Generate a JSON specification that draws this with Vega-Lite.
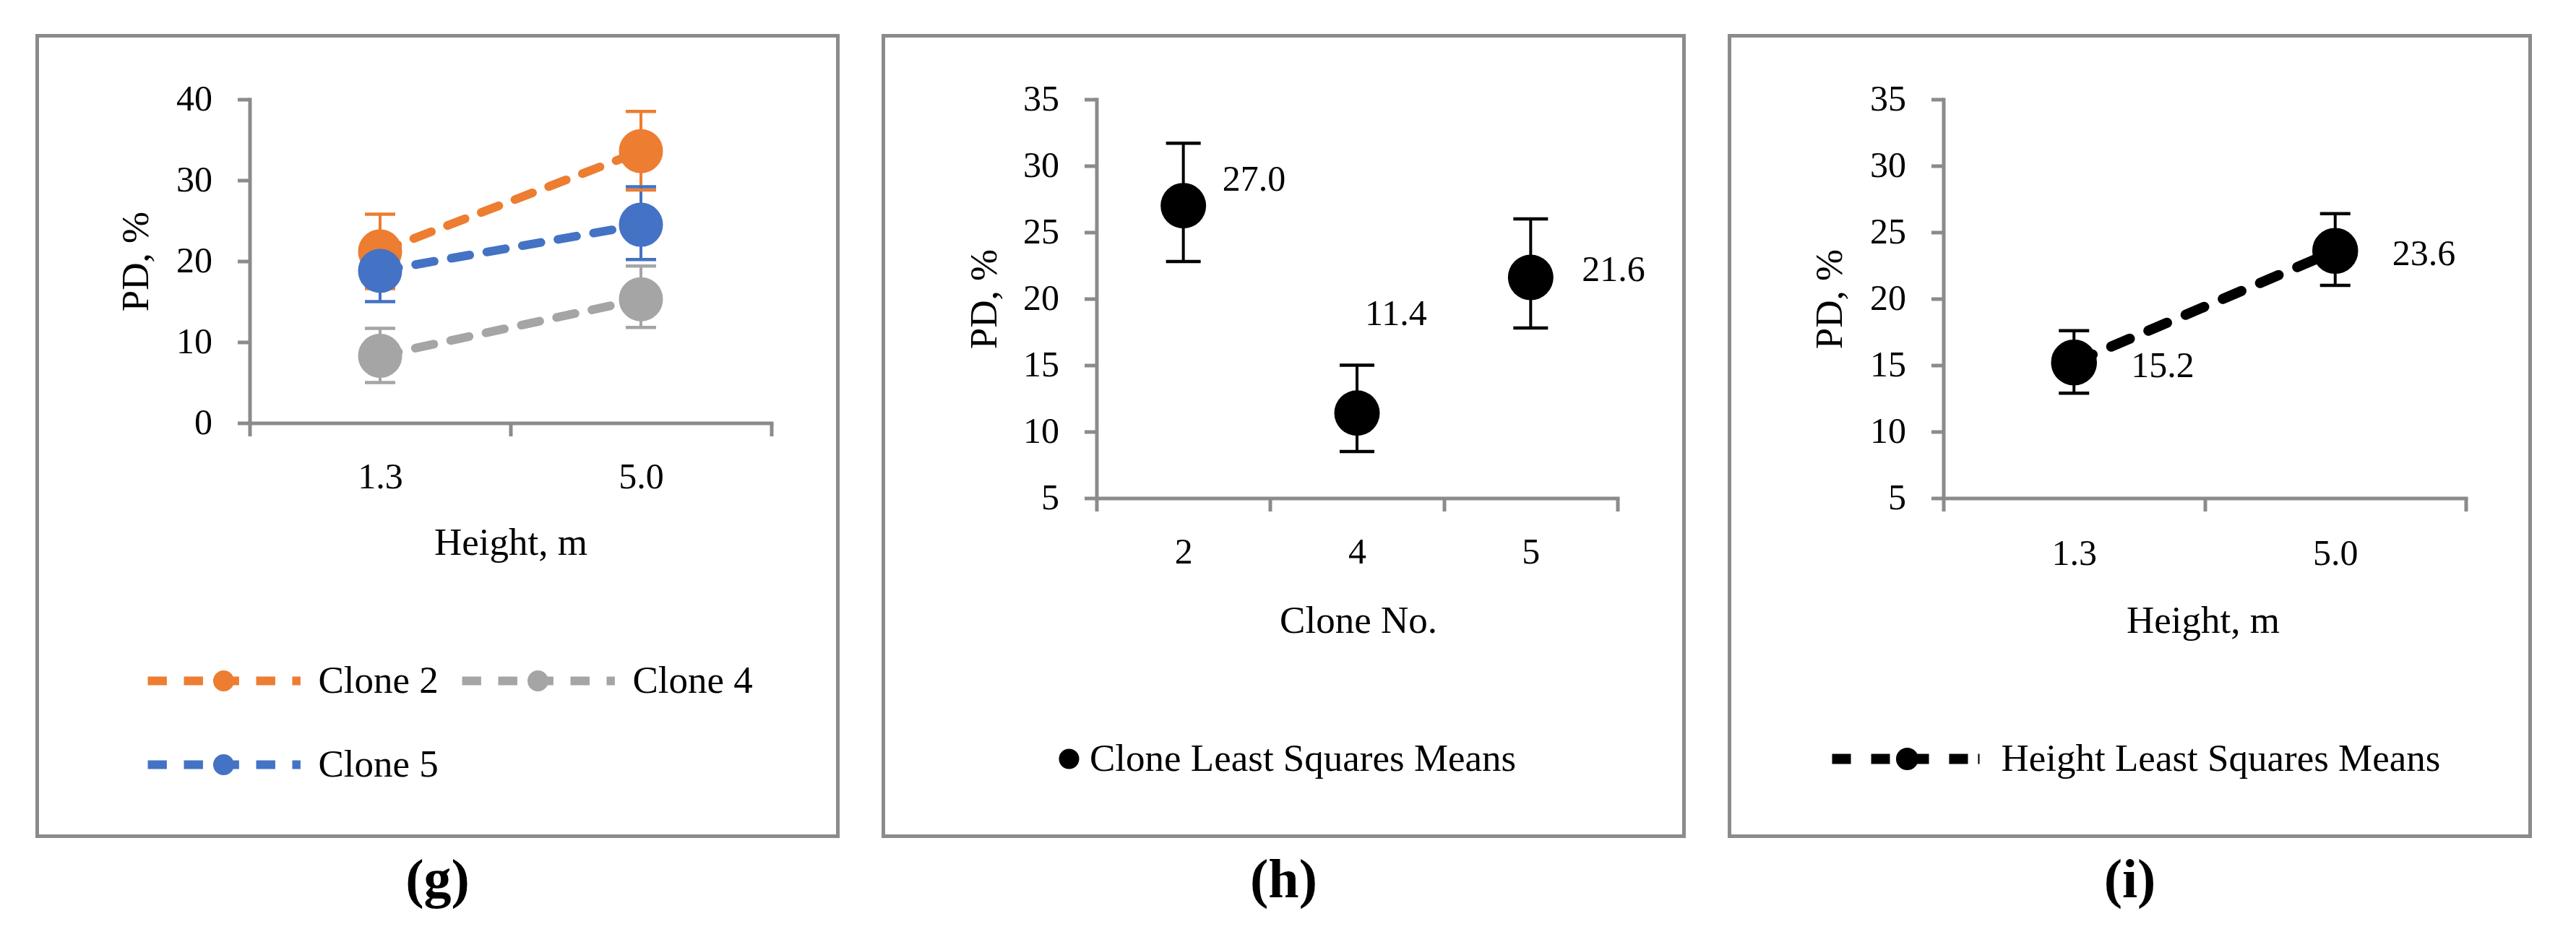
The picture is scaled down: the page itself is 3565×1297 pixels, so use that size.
{
"$schema": "https://vega.github.io/schema/vega-lite/v6.json",
"padding": {"left": 48.5, "top": 46.5, "right": 5, "bottom": 5},
"spacing": 57,
"resolve": {"scale": {"color": "independent", "stroke": "independent"}},
"config": {
  "font": "Liberation Serif",
  "view": {"stroke": "#8B8B8B", "strokeWidth": 5},
  "axis": {"domain": true, "domainColor": "#8B8B8B", "domainWidth": 5, "domainCap": "square", "grid": false, "labelColor": "black", "labelFont": "Liberation Serif", "labelFontSize": 50, "titleFont": "Liberation Serif", "titleFontSize": 53, "titleFontWeight": "normal", "titleColor": "black", "tickColor": "#8B8B8B", "tickWidth": 5},
  "title": {"font": "Liberation Serif", "color": "black"}
},
"hconcat": [
{
  "width": 1108, "height": 1108,
  "title": {"text": "(g)", "orient": "bottom", "anchor": "middle", "fontSize": 76, "fontWeight": "bold", "offset": 24},
  "data": {"values": [
    {"height": "1.3", "clone": "Clone 2", "pd": 21.2, "lo": 16.6, "hi": 25.8},
    {"height": "5.0", "clone": "Clone 2", "pd": 33.6, "lo": 28.8, "hi": 38.5},
    {"height": "1.3", "clone": "Clone 4", "pd": 8.3, "lo": 5.0, "hi": 11.7},
    {"height": "5.0", "clone": "Clone 4", "pd": 15.3, "lo": 11.8, "hi": 19.4},
    {"height": "1.3", "clone": "Clone 5", "pd": 18.8, "lo": 15.0, "hi": 22.6},
    {"height": "5.0", "clone": "Clone 5", "pd": 24.5, "lo": 20.2, "hi": 29.2}
  ]},
  "encoding": {
    "x": {"field": "height", "type": "nominal",
      "scale": {"type": "band", "domain": ["1.3", "5.0"], "range": [294, 1016], "paddingInner": 0, "paddingOuter": 0},
      "axis": {"title": "Height, m", "orient": "bottom", "offset": -572, "tickBand": "extent", "tickSize": 18, "labelAngle": 0, "labelBaseline": "middle", "labelPadding": 57, "titleX": 655, "titleY": 166, "titleBaseline": "middle", "titleAlign": "center"}},
    "y": {"field": "pd", "type": "quantitative",
      "scale": {"domain": [0, 40], "range": [536, 88], "nice": false, "zero": false},
      "axis": {"title": "PD, %", "orient": "left", "offset": -294, "values": [0, 10, 20, 30, 40], "tickSize": 17, "labelPadding": 35, "titleX": -157, "titleY": 312, "titleAngle": -90, "titleBaseline": "middle", "titleAlign": "center"}}
  },
  "layer": [
    {"mark": {"type": "line", "strokeWidth": 12, "strokeDash": [26, 24], "strokeCap": "round"},
     "encoding": {"detail": {"field": "clone", "type": "nominal"},
       "stroke": {"condition": [{"test": "datum.clone === 'Clone 2'", "value": "#ED7D31"}, {"test": "datum.clone === 'Clone 4'", "value": "#A5A5A5"}], "value": "#4472C4"}}},
    {"mark": {"type": "rule", "strokeWidth": 4},
     "encoding": {"y": {"field": "lo", "type": "quantitative"}, "y2": {"field": "hi"},
       "color": {"condition": [{"test": "datum.clone === 'Clone 2'", "value": "#ED7D31"}, {"test": "datum.clone === 'Clone 4'", "value": "#A5A5A5"}], "value": "#4472C4"}}},
    {"mark": {"type": "tick", "orient": "horizontal", "size": 42, "thickness": 4.5, "opacity": 1},
     "encoding": {"y": {"field": "lo", "type": "quantitative"},
       "color": {"condition": [{"test": "datum.clone === 'Clone 2'", "value": "#ED7D31"}, {"test": "datum.clone === 'Clone 4'", "value": "#A5A5A5"}], "value": "#4472C4"}}},
    {"mark": {"type": "tick", "orient": "horizontal", "size": 42, "thickness": 4.5, "opacity": 1},
     "encoding": {"y": {"field": "hi", "type": "quantitative"},
       "color": {"condition": [{"test": "datum.clone === 'Clone 2'", "value": "#ED7D31"}, {"test": "datum.clone === 'Clone 4'", "value": "#A5A5A5"}], "value": "#4472C4"}}},
    {"mark": {"type": "point", "filled": true, "size": 2401, "opacity": 1, "strokeWidth": 12, "strokeCap": "round"},
     "encoding": {
       "color": {"field": "clone", "type": "nominal",
         "scale": {"domain": ["Clone 2", "Clone 4", "Clone 5"], "range": ["#ED7D31", "#A5A5A5", "#4472C4"]},
         "legend": {"orient": "none", "direction": "horizontal", "legendX": 141, "legendY": 863, "title": null, "columns": 2, "columnPadding": 20, "rowPadding": 56, "clipHeight": 60, "padding": 0,
           "labelFont": "Liberation Serif", "labelFontSize": 53, "labelColor": "black", "labelOffset": 12, "labelLimit": 1000,
           "symbolType": "M-0.946,0H-0.711M-0.5,0H-0.264M-0.054,0H0.182M0.393,0H0.629M0.839,0H0.941M0.067,0A0.076,0.076,0,1,1,-0.085,0A0.076,0.076,0,1,1,0.067,0Z",
           "symbolSize": 50176, "symbolStrokeWidth": 12, "symbolOpacity": 1}},
       "stroke": {"field": "clone", "type": "nominal",
         "scale": {"domain": ["Clone 2", "Clone 4", "Clone 5"], "range": ["#ED7D31", "#A5A5A5", "#4472C4"]},
         "legend": {"orient": "none", "direction": "horizontal", "legendX": 141, "legendY": 863, "title": null, "columns": 2, "columnPadding": 20, "rowPadding": 56, "clipHeight": 60, "padding": 0,
           "labelFont": "Liberation Serif", "labelFontSize": 53, "labelColor": "black", "labelOffset": 12, "labelLimit": 1000,
           "symbolType": "M-0.946,0H-0.711M-0.5,0H-0.264M-0.054,0H0.182M0.393,0H0.629M0.839,0H0.941M0.067,0A0.076,0.076,0,1,1,-0.085,0A0.076,0.076,0,1,1,0.067,0Z",
           "symbolSize": 50176, "symbolStrokeWidth": 12, "symbolOpacity": 1}}}}
  ]
},
{
  "width": 1108, "height": 1108,
  "title": {"text": "(h)", "orient": "bottom", "anchor": "middle", "fontSize": 76, "fontWeight": "bold", "offset": 24},
  "data": {"values": [
    {"clone": "2", "pd": 27.0, "lo": 22.8, "hi": 31.7, "series": "Clone Least Squares Means"},
    {"clone": "4", "pd": 11.4, "lo": 8.5, "hi": 15.0, "series": "Clone Least Squares Means"},
    {"clone": "5", "pd": 21.6, "lo": 17.8, "hi": 26.0, "series": "Clone Least Squares Means"}
  ]},
  "encoding": {
    "x": {"field": "clone", "type": "nominal",
      "scale": {"type": "band", "domain": ["2", "4", "5"], "range": [295, 1016], "paddingInner": 0, "paddingOuter": 0},
      "axis": {"title": "Clone No.", "orient": "bottom", "offset": -468, "tickBand": "extent", "tickSize": 18, "labelAngle": 0, "labelBaseline": "middle", "labelPadding": 57, "titleX": 657, "titleY": 170, "titleBaseline": "middle", "titleAlign": "center"}},
    "y": {"field": "pd", "type": "quantitative",
      "scale": {"domain": [5, 35], "range": [640, 88], "nice": false, "zero": false},
      "axis": {"title": "PD, %", "orient": "left", "offset": -295, "values": [5, 10, 15, 20, 25, 30, 35], "tickSize": 17, "labelPadding": 35, "titleX": -155, "titleY": 364, "titleAngle": -90, "titleBaseline": "middle", "titleAlign": "center"}}
  },
  "layer": [
    {"mark": {"type": "rule", "strokeWidth": 4, "color": "black"},
     "encoding": {"y": {"field": "lo", "type": "quantitative"}, "y2": {"field": "hi"}}},
    {"mark": {"type": "tick", "orient": "horizontal", "size": 48, "thickness": 4.5, "opacity": 1, "color": "black"},
     "encoding": {"y": {"field": "lo", "type": "quantitative"}}},
    {"mark": {"type": "tick", "orient": "horizontal", "size": 48, "thickness": 4.5, "opacity": 1, "color": "black"},
     "encoding": {"y": {"field": "hi", "type": "quantitative"}}},
    {"mark": {"type": "point", "filled": true, "size": 3969, "opacity": 1},
     "encoding": {"color": {"field": "series", "type": "nominal", "scale": {"range": ["black"]},
       "legend": {"orient": "none", "legendX": 230.5, "legendY": 971, "title": null, "clipHeight": 60, "padding": 0,
         "labelFont": "Liberation Serif", "labelFontSize": 53, "labelColor": "black", "labelOffset": 2, "labelLimit": 1000,
         "symbolType": "circle", "symbolSize": 784, "symbolOpacity": 1}}}},
    {"transform": [{"filter": "datum.clone === '2'"}],
     "mark": {"type": "text", "align": "left", "baseline": "middle", "fontSize": 50, "dx": 54, "dy": -36, "color": "black"},
     "encoding": {"text": {"field": "pd", "type": "quantitative", "format": ".1f"}}},
    {"transform": [{"filter": "datum.clone === '4'"}],
     "mark": {"type": "text", "align": "left", "baseline": "middle", "fontSize": 50, "dx": 11, "dy": -137, "color": "black"},
     "encoding": {"text": {"field": "pd", "type": "quantitative", "format": ".1f"}}},
    {"transform": [{"filter": "datum.clone === '5'"}],
     "mark": {"type": "text", "align": "left", "baseline": "middle", "fontSize": 50, "dx": 71, "dy": -10, "color": "black"},
     "encoding": {"text": {"field": "pd", "type": "quantitative", "format": ".1f"}}},
    {"data": {"values": [{"t": "p"}]},
     "mark": {"type": "text", "align": "right", "baseline": "middle", "fontSize": 48, "fontStyle": "italic", "dx": -36, "color": "black"},
     "encoding": {"x": {"datum": "5", "type": "nominal"}, "y": {"datum": 36.36, "type": "quantitative"}, "text": {"field": "t"}}},
    {"data": {"values": [{"t": "= 0.0017"}]},
     "mark": {"type": "text", "align": "left", "baseline": "middle", "fontSize": 48, "dx": -21, "color": "black"},
     "encoding": {"x": {"datum": "5", "type": "nominal"}, "y": {"datum": 36.36, "type": "quantitative"}, "text": {"field": "t"}}}
  ]
},
{
  "width": 1108, "height": 1108,
  "title": {"text": "(i)", "orient": "bottom", "anchor": "middle", "fontSize": 76, "fontWeight": "bold", "offset": 24},
  "data": {"values": [
    {"height": "1.3", "pd": 15.2, "lo": 12.9, "hi": 17.6, "series": "Height Least Squares Means"},
    {"height": "5.0", "pd": 23.6, "lo": 21.0, "hi": 26.4, "series": "Height Least Squares Means"}
  ]},
  "encoding": {
    "x": {"field": "height", "type": "nominal",
      "scale": {"type": "band", "domain": ["1.3", "5.0"], "range": [296, 1019], "paddingInner": 0, "paddingOuter": 0},
      "axis": {"title": "Height, m", "orient": "bottom", "offset": -468, "tickBand": "extent", "tickSize": 18, "labelAngle": 0, "labelBaseline": "middle", "labelPadding": 59, "titleX": 655, "titleY": 170, "titleBaseline": "middle", "titleAlign": "center"}},
    "y": {"field": "pd", "type": "quantitative",
      "scale": {"domain": [5, 35], "range": [640, 88], "nice": false, "zero": false},
      "axis": {"title": "PD, %", "orient": "left", "offset": -296, "values": [5, 10, 15, 20, 25, 30, 35], "tickSize": 17, "labelPadding": 35, "titleX": -157, "titleY": 364, "titleAngle": -90, "titleBaseline": "middle", "titleAlign": "center"}}
  },
  "layer": [
    {"mark": {"type": "line", "strokeWidth": 14, "strokeDash": [28, 28], "strokeCap": "round", "color": "black"},
     "encoding": {}},
    {"mark": {"type": "rule", "strokeWidth": 4, "color": "black"},
     "encoding": {"y": {"field": "lo", "type": "quantitative"}, "y2": {"field": "hi"}}},
    {"mark": {"type": "tick", "orient": "horizontal", "size": 42, "thickness": 4.5, "opacity": 1, "color": "black"},
     "encoding": {"y": {"field": "lo", "type": "quantitative"}}},
    {"mark": {"type": "tick", "orient": "horizontal", "size": 42, "thickness": 4.5, "opacity": 1, "color": "black"},
     "encoding": {"y": {"field": "hi", "type": "quantitative"}}},
    {"mark": {"type": "point", "filled": true, "size": 2450, "opacity": 1, "strokeWidth": 14, "strokeCap": "round"},
     "encoding": {
       "color": {"field": "series", "type": "nominal", "scale": {"range": ["black"]},
         "legend": {"orient": "none", "legendX": 128, "legendY": 971, "title": null, "clipHeight": 60, "padding": 0,
           "labelFont": "Liberation Serif", "labelFontSize": 53, "labelColor": "black", "labelOffset": 16, "labelLimit": 1000,
           "symbolType": "M-0.936,0H-0.697M-0.44,0H-0.202M0.055,0H0.294M0.55,0H0.789M0.917,0H0.936M0.096,0A0.078,0.078,0,1,1,-0.06,0A0.078,0.078,0,1,1,0.096,0Z",
           "symbolSize": 47524, "symbolStrokeWidth": 14, "symbolOpacity": 1}},
       "stroke": {"field": "series", "type": "nominal", "scale": {"range": ["black"]},
         "legend": {"orient": "none", "legendX": 128, "legendY": 971, "title": null, "clipHeight": 60, "padding": 0,
           "labelFont": "Liberation Serif", "labelFontSize": 53, "labelColor": "black", "labelOffset": 16, "labelLimit": 1000,
           "symbolType": "M-0.936,0H-0.697M-0.44,0H-0.202M0.055,0H0.294M0.55,0H0.789M0.917,0H0.936M0.096,0A0.078,0.078,0,1,1,-0.06,0A0.078,0.078,0,1,1,0.096,0Z",
           "symbolSize": 47524, "symbolStrokeWidth": 14, "symbolOpacity": 1}}}},
    {"mark": {"type": "text", "align": "left", "baseline": "middle", "fontSize": 50, "dx": 79, "dy": 5, "color": "black"},
     "encoding": {"text": {"field": "pd", "type": "quantitative", "format": ".1f"}}},
    {"data": {"values": [{"t": "p"}]},
     "mark": {"type": "text", "align": "right", "baseline": "middle", "fontSize": 48, "fontStyle": "italic", "dx": 24, "color": "black"},
     "encoding": {"x": {"datum": "5.0", "type": "nominal"}, "y": {"datum": 36.36, "type": "quantitative"}, "text": {"field": "t"}}},
    {"data": {"values": [{"t": "= 0.0002"}]},
     "mark": {"type": "text", "align": "left", "baseline": "middle", "fontSize": 48, "dx": 38, "color": "black"},
     "encoding": {"x": {"datum": "5.0", "type": "nominal"}, "y": {"datum": 36.36, "type": "quantitative"}, "text": {"field": "t"}}}
  ]
}
]
}
